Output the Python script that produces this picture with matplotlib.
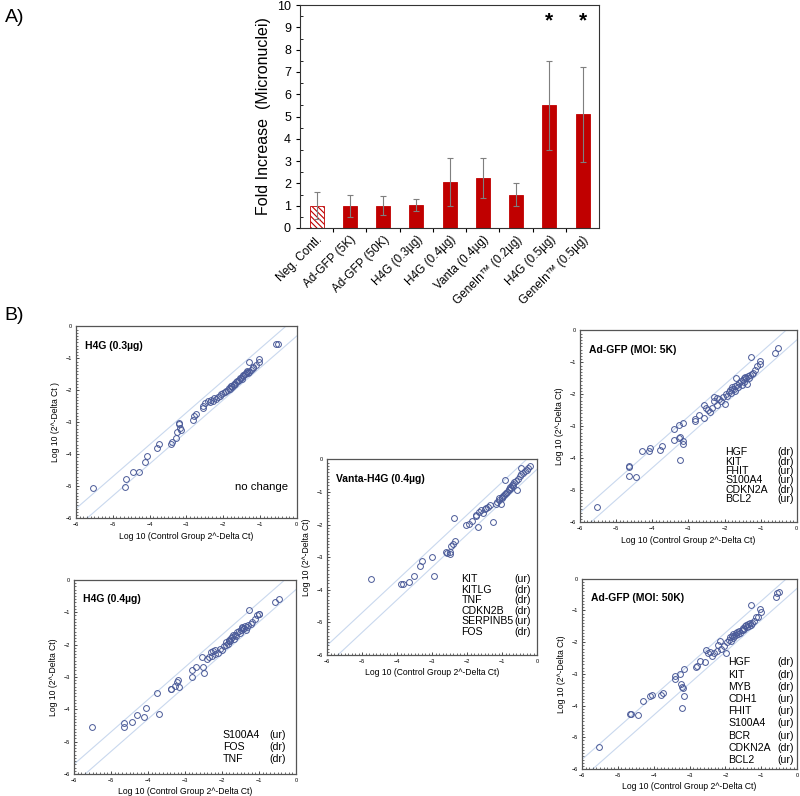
import numpy as np
import matplotlib
matplotlib.use("Agg")
import matplotlib.pyplot as plt
from matplotlib.ticker import MultipleLocator

plt.rcParams['font.family'] = ['Liberation Sans', 'DejaVu Sans']
plt.rcParams['hatch.linewidth'] = 0.8

# A) micronuclei bar chart
categories = ['Neg. Contl.', 'Ad-GFP (5K)', 'Ad-GFP (50K)', 'H4G (0.3µg)', 'H4G (0.4µg)',
              'Vanta (0.4µg)', 'GeneIn™ (0.2µg)', 'H4G (0.5µg)', 'GeneIn™ (0.5µg)']
fold = [1.0, 1.0, 1.0, 1.02, 2.07, 2.25, 1.5, 5.5, 5.1]
fold_err = [0.6, 0.5, 0.42, 0.27, 1.08, 0.9, 0.5, 2.0, 2.12]
signif = [False, False, False, False, False, False, False, True, True]

# B) scatter panels: (log10 control, log10 treated)
pts_h4g03 = [(-5.53, -5.05), (-4.66, -5.01), (-4.64, -4.78), (-4.44, -4.56), (-4.30, -4.57),
             (-4.12, -4.24), (-4.06, -4.05), (-3.79, -3.79), (-3.74, -3.68), (-3.41, -3.67),
             (-3.40, -3.63), (-3.28, -3.48), (-3.26, -3.31), (-3.21, -3.02), (-3.21, -3.06),
             (-3.17, -3.17), (-3.16, -3.23), (-2.81, -2.94), (-2.80, -2.81), (-2.73, -2.73),
             (-2.56, -2.56), (-2.55, -2.50), (-2.50, -2.40), (-2.42, -2.35), (-2.36, -2.38),
             (-2.32, -2.30), (-2.28, -2.33), (-2.24, -2.25), (-2.20, -2.28), (-2.15, -2.22),
             (-2.10, -2.19), (-2.05, -2.12), (-2.00, -2.08), (-1.95, -2.05), (-1.92, -2.02),
             (-1.88, -1.98), (-1.85, -1.92), (-1.82, -1.95), (-1.80, -1.88), (-1.78, -1.85),
             (-1.75, -1.90), (-1.72, -1.82), (-1.70, -1.79), (-1.68, -1.80), (-1.65, -1.75),
             (-1.62, -1.72), (-1.60, -1.70), (-1.58, -1.68), (-1.55, -1.62), (-1.52, -1.60),
             (-1.50, -1.65), (-1.47, -1.55), (-1.45, -1.52), (-1.42, -1.48), (-1.40, -1.50),
             (-1.38, -1.45), (-1.36, -1.43), (-1.35, -1.40), (-1.33, -1.47), (-1.30, -1.42),
             (-1.29, -1.11), (-1.25, -1.38), (-1.20, -1.27), (-1.18, -1.30), (-1.12, -1.22),
             (-1.02, -1.01), (-1.02, -1.11), (-0.57, -0.56), (-0.52, -0.56)]

pts_h4g04 = [(-5.51, -4.56), (-4.64, -4.56), (-4.64, -4.41), (-4.43, -4.40), (-4.29, -4.18),
             (-4.11, -4.23), (-4.05, -3.97), (-3.76, -3.51), (-3.71, -4.16), (-3.39, -3.38),
             (-3.38, -3.36), (-3.27, -3.28), (-3.22, -3.15), (-3.18, -3.10), (-3.17, -3.32),
             (-2.81, -3.01), (-2.81, -2.79), (-2.70, -2.68), (-2.54, -2.39), (-2.52, -2.68),
             (-2.49, -2.87), (-2.40, -2.45), (-2.35, -2.40), (-2.30, -2.22), (-2.28, -2.35),
             (-2.25, -2.20), (-2.20, -2.30), (-2.18, -2.18), (-2.12, -2.25), (-2.05, -2.15),
             (-2.00, -2.18), (-1.95, -2.05), (-1.90, -2.00), (-1.88, -1.92), (-1.85, -1.98),
             (-1.82, -1.90), (-1.80, -1.85), (-1.78, -1.88), (-1.75, -1.80), (-1.72, -1.78),
             (-1.70, -1.72), (-1.68, -1.82), (-1.65, -1.70), (-1.62, -1.75), (-1.60, -1.62),
             (-1.55, -1.58), (-1.52, -1.65), (-1.50, -1.55), (-1.47, -1.50), (-1.45, -1.45),
             (-1.42, -1.52), (-1.40, -1.48), (-1.38, -1.42), (-1.36, -1.55), (-1.33, -1.45),
             (-1.30, -1.40), (-1.26, -0.93), (-1.22, -1.35), (-1.18, -1.30), (-1.12, -1.22),
             (-1.05, -1.10), (-1.00, -1.07), (-1.00, -1.05), (-0.56, -0.70), (-0.47, -0.60)]

pts_vanta = [(-4.75, -3.68), (-3.88, -3.83), (-3.84, -3.82), (-3.67, -3.76), (-3.51, -3.57),
             (-3.34, -3.26), (-3.29, -3.12), (-3.00, -2.98), (-2.96, -3.59), (-2.62, -2.85),
             (-2.58, -2.86), (-2.50, -2.90), (-2.48, -2.85), (-2.45, -2.65), (-2.40, -2.60),
             (-2.35, -2.50), (-2.37, -1.81), (-2.03, -2.02), (-1.95, -1.97), (-1.85, -1.90),
             (-1.76, -1.75), (-1.76, -1.71), (-1.70, -2.08), (-1.65, -1.62), (-1.60, -1.55),
             (-1.55, -1.65), (-1.50, -1.52), (-1.45, -1.50), (-1.40, -1.45), (-1.35, -1.40),
             (-1.27, -1.93), (-1.19, -1.38), (-1.15, -1.30), (-1.10, -1.25), (-1.08, -1.20),
             (-1.04, -1.38), (-1.02, -1.15), (-1.00, -1.18), (-0.98, -1.12), (-0.95, -1.10),
             (-0.92, -1.05), (-0.91, -0.64), (-0.88, -1.02), (-0.85, -1.00), (-0.82, -0.95),
             (-0.80, -0.90), (-0.78, -0.85), (-0.75, -0.88), (-0.72, -0.80), (-0.70, -0.75),
             (-0.68, -0.82), (-0.65, -0.70), (-0.62, -0.65), (-0.58, -0.93), (-0.55, -0.60),
             (-0.50, -0.50), (-0.47, -0.28), (-0.45, -0.45), (-0.40, -0.42), (-0.35, -0.35),
             (-0.30, -0.32), (-0.25, -0.28), (-0.20, -0.22)]

pts_ad5k = [(-5.52, -5.53), (-4.65, -4.56), (-4.65, -4.27), (-4.64, -4.25), (-4.45, -4.60),
            (-4.29, -3.76), (-4.10, -3.77), (-4.05, -3.67), (-3.79, -3.73), (-3.72, -3.63),
            (-3.40, -3.44), (-3.40, -3.08), (-3.27, -2.96), (-3.27, -3.37), (-3.23, -3.35),
            (-3.16, -2.89), (-3.16, -3.47), (-3.16, -3.56), (-3.22, -4.04), (-2.82, -2.82),
            (-2.82, -2.76), (-2.72, -2.66), (-2.56, -2.73), (-2.56, -2.32), (-2.51, -2.44),
            (-2.45, -2.48), (-2.40, -2.55), (-2.35, -2.42), (-2.30, -2.20), (-2.28, -2.08),
            (-2.22, -2.12), (-2.20, -2.35), (-2.15, -2.15), (-2.10, -2.22), (-2.05, -2.10),
            (-2.00, -2.29), (-1.95, -1.98), (-1.92, -2.05), (-1.88, -1.92), (-1.85, -1.88),
            (-1.82, -1.95), (-1.80, -1.82), (-1.78, -1.78), (-1.75, -1.85), (-1.72, -1.75),
            (-1.70, -1.90), (-1.67, -1.48), (-1.65, -1.70), (-1.62, -1.78), (-1.60, -1.65),
            (-1.55, -1.60), (-1.52, -1.72), (-1.50, -1.55), (-1.47, -1.50), (-1.45, -1.62),
            (-1.42, -1.45), (-1.40, -1.50), (-1.38, -1.67), (-1.35, -1.42), (-1.32, -1.48),
            (-1.30, -1.40), (-1.27, -0.82), (-1.25, -1.38), (-1.20, -1.32), (-1.15, -1.23),
            (-1.10, -1.12), (-1.03, -0.96), (-1.02, -1.06), (-0.59, -0.71), (-0.51, -0.54)]

pts_ad50k = [(-5.52, -5.29), (-4.66, -4.28), (-4.64, -4.25), (-4.43, -4.29), (-4.29, -3.84),
             (-4.10, -3.69), (-4.05, -3.66), (-3.80, -3.66), (-3.75, -3.60), (-3.40, -3.06),
             (-3.40, -3.16), (-3.28, -3.00), (-3.17, -2.85), (-3.24, -3.31), (-3.20, -3.40),
             (-3.18, -3.45), (-3.15, -3.71), (-3.22, -4.08), (-2.82, -2.77), (-2.80, -2.75),
             (-2.72, -2.58), (-2.56, -2.63), (-2.55, -2.24), (-2.50, -2.35), (-2.42, -2.30),
             (-2.38, -2.42), (-2.32, -2.35), (-2.25, -2.28), (-2.20, -2.10), (-2.14, -1.95),
             (-2.12, -2.20), (-1.98, -2.35), (-2.05, -2.12), (-1.95, -2.00), (-1.90, -1.92),
             (-1.88, -1.85), (-1.85, -1.95), (-1.82, -1.80), (-1.80, -1.88), (-1.78, -1.75),
             (-1.75, -1.82), (-1.72, -1.72), (-1.70, -1.78), (-1.68, -1.68), (-1.65, -1.75),
             (-1.62, -1.65), (-1.60, -1.70), (-1.55, -1.60), (-1.52, -1.62), (-1.50, -1.55),
             (-1.47, -1.58), (-1.45, -1.50), (-1.42, -1.45), (-1.40, -1.52), (-1.38, -1.42),
             (-1.35, -1.48), (-1.32, -1.40), (-1.30, -1.45), (-1.29, -0.83), (-1.25, -1.38),
             (-1.20, -1.32), (-1.15, -1.20), (-1.10, -1.22), (-1.03, -0.96), (-1.00, -1.06),
             (-0.58, -0.58), (-0.56, -0.45), (-0.52, -0.41)]

genes_h4g03 = []
genes_h4g04 = [('S100A4', '(ur)'), ('FOS', '(dr)'), ('TNF', '(dr)')]
genes_vanta = [('KIT', '(ur)'), ('KITLG', '(dr)'), ('TNF', '(dr)'), ('CDKN2B', '(dr)'),
               ('SERPINB5', '(ur)'), ('FOS', '(dr)')]
genes_ad5k = [('HGF', '(dr)'), ('KIT', '(dr)'), ('FHIT', '(ur)'), ('S100A4', '(ur)'),
              ('CDKN2A', '(dr)'), ('BCL2', '(ur)')]
genes_ad50k = [('HGF', '(dr)'), ('KIT', '(dr)'), ('MYB', '(dr)'), ('CDH1', '(ur)'),
               ('FHIT', '(ur)'), ('S100A4', '(ur)'), ('BCR', '(ur)'), ('CDKN2A', '(dr)'),
               ('BCL2', '(ur)')]

fig = plt.figure(figsize=(8.0, 7.96), dpi=100)

# ---- A) bars
red = '#c00000'
ax = fig.add_axes([0.375, 0.7136, 0.374, 0.280])
xpos = np.arange(len(categories))
bars = ax.bar(xpos, fold, width=0.42, color=red, edgecolor=red, linewidth=0.6, zorder=2)
bars[0].set_facecolor('white')
bars[0].set_hatch('\\\\\\\\\\\\')
ax.errorbar(xpos, fold, yerr=fold_err, fmt='none', ecolor='#7f7f7f', elinewidth=0.8,
            capsize=2, capthick=0.8, zorder=3)
for i, s in enumerate(signif):
    if s:
        ax.text(xpos[i], 8.85, '*', ha='center', va='bottom', fontsize=15, fontweight='bold')
ax.set_xlim(-0.5, len(categories) - 0.5)
ax.set_ylim(0, 10)
ax.set_yticks(range(0, 11))
ax.yaxis.set_minor_locator(MultipleLocator(0.5))
ax.tick_params(axis='y', which='major', direction='out', length=3, labelsize=9, width=0.8)
ax.tick_params(axis='y', which='minor', direction='in', length=2, width=0.6)
ax.set_xticks(xpos[:-1] + 0.5)
ax.set_xticklabels([])
ax.tick_params(axis='x', which='major', direction='out', length=3, width=0.8)
ax.set_xticks(xpos, minor=True)
ax.set_xticklabels(categories, minor=True, rotation=45, ha='right', rotation_mode='anchor',
                   fontsize=8.5)
ax.tick_params(axis='x', which='minor', length=0, pad=4)
ax.set_ylabel('Fold Increase  (Micronuclei)', fontsize=11.5, labelpad=4)
for sp in ax.spines.values():
    sp.set_color('#333333')
    sp.set_linewidth(0.8)

fig.text(0.006, 0.978, 'A)', fontsize=14, va='center')
fig.text(0.006, 0.604, 'B)', fontsize=14, va='center')

# ---- B) scatter panels
dot = '#4a5a98'
diag = '#c9d8ee'


def panel(rect, pts, title, genes, gx, gy, gdy, grx, ylab='Log 10 (2^-Delta Ct)'):
    a = fig.add_axes(rect)
    lx = np.array([-6.0, 0.0])
    a.plot(lx, lx + 0.301, color=diag, lw=0.8, zorder=1)
    a.plot(lx, lx - 0.301, color=diag, lw=0.8, zorder=1)
    xs = [p[0] for p in pts]
    ys = [p[1] for p in pts]
    a.plot(xs, ys, 'o', mfc='none', mec=dot, ms=4.2, mew=0.7, zorder=2)
    a.set_xlim(-6, 0)
    a.set_ylim(-6, 0)
    a.set_xticks(range(-6, 1))
    a.set_yticks(range(-6, 1))
    a.xaxis.set_minor_locator(MultipleLocator(0.1))
    a.yaxis.set_minor_locator(MultipleLocator(0.1))
    a.tick_params(which='major', direction='in', length=2.5, labelsize=4, pad=3, width=0.5)
    a.tick_params(which='minor', direction='in', length=1.5, width=0.4)
    for sp in a.spines.values():
        sp.set_color('#555555')
        sp.set_linewidth(0.9)
    a.set_xlabel('Log 10 (Control Group 2^-Delta Ct)', fontsize=6.2, labelpad=3)
    a.set_ylabel(ylab, fontsize=6.2, labelpad=4)
    a.text(0.04, 0.90, title, transform=a.transAxes, fontsize=7.5, fontweight='bold',
           va='center', ha='left')
    for k, (g, st) in enumerate(genes):
        yy = gy - k * gdy
        a.text(gx, yy, g, transform=a.transAxes, fontsize=7.6, va='center', ha='left')
        a.text(grx, yy, st, transform=a.transAxes, fontsize=7.6, va='center', ha='right')
    return a


a1 = panel([0.095, 0.349, 0.276, 0.241], pts_h4g03, 'H4G (0.3µg)', genes_h4g03,
           0.67, 0.3, 0.05, 0.96, ylab='Log 10 (2^-Delta Ct )')
a1.text(0.84, 0.165, 'no change', transform=a1.transAxes, fontsize=8.2, ha='center',
        va='center')
panel([0.409, 0.177, 0.2625, 0.246], pts_vanta, 'Vanta-H4G (0.4µg)', genes_vanta,
      0.64, 0.388, 0.054, 0.97)
panel([0.725, 0.344, 0.271, 0.241], pts_ad5k, 'Ad-GFP (MOI: 5K)', genes_ad5k,
      0.67, 0.365, 0.049, 0.985)
panel([0.0925, 0.0276, 0.2775, 0.244], pts_h4g04, 'H4G (0.4µg)', genes_h4g04,
      0.67, 0.20, 0.061, 0.955)
panel([0.7275, 0.0339, 0.269, 0.239], pts_ad50k, 'Ad-GFP (MOI: 50K)', genes_ad50k,
      0.68, 0.56, 0.064, 0.985)

fig.savefig('out.png', dpi=100)
